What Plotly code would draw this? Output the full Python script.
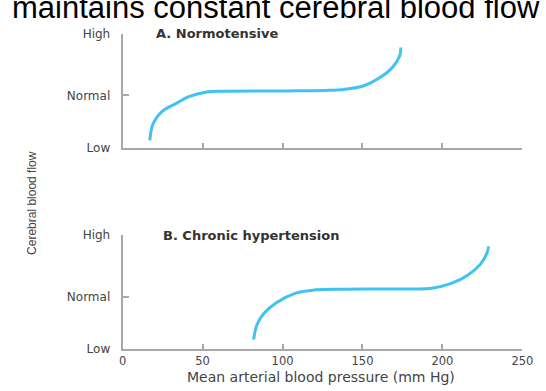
import plotly.graph_objects as go

# ---- data ----
flow_levels = [0, 46, 100]
flow_labels = ["Low", "Normal", "High"]
pressure_ticks = [0, 50, 100, 150, 200, 250]
pressure_labels = ["0", "50", "100", "150", "200", "250"]

normo_map = [17.0, 18.9, 24.9, 33.5, 41.4, 53.5, 65.7, 102.0, 126.5, 138.7, 150.9, 161.2, 169.1, 173.4, 174.0]
normo_flow = [6.5, 20.6, 32.2, 39.0, 44.9, 49.2, 49.6, 50.0, 50.4, 51.3, 54.5, 61.9, 71.2, 81.4, 88.1]

hyper_map = [81.9, 83.9, 88.0, 96.1, 108.3, 120.4, 138.7, 169.1, 181.3, 193.4, 205.6, 215.8, 223.8, 227.9, 228.9]
hyper_flow = [8.4, 21.0, 30.8, 40.6, 49.0, 51.8, 52.4, 52.5, 52.6, 53.2, 57.4, 64.5, 74.2, 84.0, 89.7]

CURVE = "#3ec3f2"
AXIS = "#a8a8a8"
TXT = "#444444"
W, H = 546, 391

fig = go.Figure()
fig.add_trace(go.Scatter(x=normo_map, y=normo_flow, mode="lines",
                         line=dict(color=CURVE, width=3, shape="spline"),
                         xaxis="x", yaxis="y", showlegend=False))
fig.add_trace(go.Scatter(x=hyper_map, y=hyper_flow, mode="lines",
                         line=dict(color=CURVE, width=3, shape="spline"),
                         xaxis="x2", yaxis="y2", showlegend=False))

xdom = [122 / W, 533 / W]
ydomA = [(H - 146) / H, (H - 28) / H]
ydomB = [(H - 355) / H, (H - 236) / H]

common_x = dict(range=[0, 250], showgrid=False, zeroline=False, showline=True,
                linecolor=AXIS, linewidth=2, ticks="inside", ticklen=5,
                tickcolor=AXIS, tickwidth=1.5, tickvals=pressure_ticks,
                ticktext=pressure_labels, domain=xdom,
                tickfont=dict(family="DejaVu Sans", size=11.5, color=TXT))
common_y = dict(range=[0, 100], showgrid=False, zeroline=False, showline=True,
                linecolor=AXIS, linewidth=2, ticks="inside", ticklen=6,
                tickcolor=AXIS, tickwidth=1.5, tickvals=flow_levels,
                ticktext=flow_labels, ticklabelstandoff=8,
                tickfont=dict(family="DejaVu Sans", size=12, color=TXT))

fig.update_layout(
    width=W, height=H, margin=dict(l=0, r=0, t=0, b=0),
    paper_bgcolor="white", plot_bgcolor="white",
    title=dict(text="maintains constant cerebral blood flow",
               x=12 / W, xanchor="left", y=1 - 7 / H, yanchor="middle",
               font=dict(family="Liberation Sans, Arial", size=31, color="black")),
    xaxis=dict(**common_x, anchor="y", showticklabels=False),
    yaxis=dict(**common_y, anchor="x", domain=ydomA),
    xaxis2=dict(**common_x, anchor="y2"),
    yaxis2=dict(**common_y, anchor="x2", domain=ydomB),
)

ann = [
    dict(text="<b>A. Normotensive</b>", x=154 / W, y=(H - 28) / H,
         xanchor="left", yanchor="middle", align="left",
         font=dict(family="DejaVu Sans", size=13, color="#333333")),
    dict(text="<b>B. Chronic hypertension</b>", x=161 / W, y=(H - 237) / H,
         xanchor="left", yanchor="middle", align="left",
         font=dict(family="DejaVu Sans", size=13, color="#333333")),
    dict(text="Mean arterial blood pressure (mm Hg)", x=326 / W, y=(H - 384) / H,
         xanchor="center", yanchor="middle",
         font=dict(family="DejaVu Sans", size=14, color=TXT)),
    dict(text="Cerebral blood flow", x=29 / W, y=(H - 203) / H, textangle=-90,
         xanchor="center", yanchor="middle",
         font=dict(family="Liberation Sans Narrow, Liberation Sans, Arial", size=12, color=TXT)),
]
for a in ann:
    fig.add_annotation(xref="paper", yref="paper", showarrow=False, **a)

fig.write_html("out.html", config={"displayModeBar": False},
               post_script="document.body.style.margin='0';")
